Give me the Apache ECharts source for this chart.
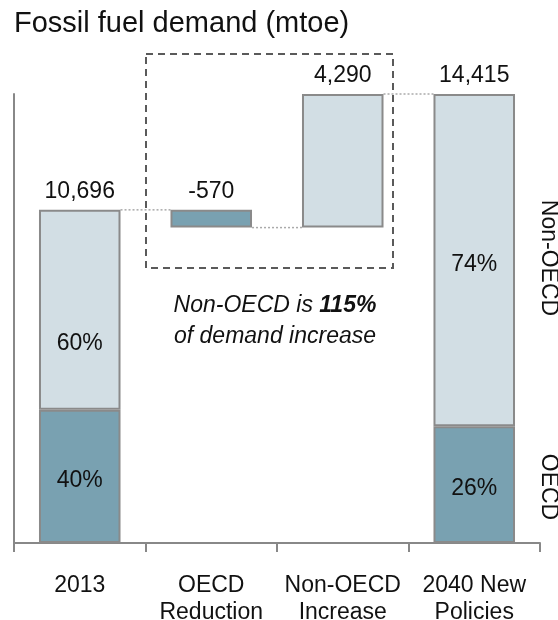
<!DOCTYPE html>
<html>
<head>
<meta charset="utf-8">
<script src="https://cdn.jsdelivr.net/npm/echarts@6/dist/echarts.min.js"></script>
<style>html,body{margin:0;padding:0;background:#fff}#c{width:558px;height:620px}</style>
</head>
<body>
<div id="c"></div>
<script>
const categories = ['2013', 'OECD\nReduction', 'Non-OECD\nIncrease', '2040 New\nPolicies'];
const totalValues = [10696, null, null, 14415];
const changeValues = [null, -570, 4290, null];
const oecdShare = [40, null, null, 26];
const nonOecdShare = [60, null, null, 74];

const FONT = '"Liberation Sans", Arial, sans-serif';
const DARK = '#79a1b1';
const LIGHT = '#d2dee4';
const BORDER = '#8a8a8a';
const TXT = '#111';

// derive waterfall layout values
const base = [], oecd = [], nonOecd = [], drop = [], rise = [], totLbl = [], connectors = [];
let running = 0;
categories.forEach((c, i) => {
  if (totalValues[i] != null) {
    base.push(0);
    oecd.push(totalValues[i] * oecdShare[i] / 100);
    nonOecd.push(totalValues[i] * nonOecdShare[i] / 100);
    drop.push('-'); rise.push('-');
    totLbl.push(0);
    if (i > 0) connectors.push([i - 1, i, running]);
    running = totalValues[i];
  } else {
    const ch = changeValues[i];
    const start = running;
    const b = ch < 0 ? running + ch : running;
    base.push(b);
    oecd.push('-'); nonOecd.push('-'); totLbl.push('-');
    if (ch < 0) { drop.push(-ch); rise.push('-'); } else { rise.push(ch); drop.push('-'); }
    if (i > 0) connectors.push([i - 1, i, start]);
    running = running + ch;
  }
});
// align last connector with the final total level
connectors[connectors.length - 1][2] = totalValues[totalValues.length - 1];

const fmt = v => v.toLocaleString('en-US');
const labelCommon = { color: TXT, fontSize: 23, fontFamily: FONT };
const barCommon = { type: 'bar', stack: 'w', barWidth: '62%' };

const chart = echarts.init(document.getElementById('c'), null, { renderer: 'canvas' });
chart.setOption({
  animation: false,
  backgroundColor: '#fff',
  grid: { left: 14, right: 18, top: 94, bottom: 77, containLabel: false, outerBoundsMode: 'none' },
  xAxis: {
    type: 'category',
    data: categories,
    axisLine: { lineStyle: { color: '#888', width: 2 } },
    axisTick: { show: true, length: 9, lineStyle: { color: '#888', width: 2 } },
    axisLabel: { color: TXT, fontSize: 23, fontFamily: FONT, lineHeight: 27, margin: 29, interval: 0 }
  },
  yAxis: {
    type: 'value', min: 0, max: totalValues[3],
    axisLine: { show: true, lineStyle: { color: '#888', width: 2 } },
    axisLabel: { show: false }, axisTick: { show: false }, splitLine: { show: false }
  },
  series: [
    Object.assign({}, barCommon, {
      name: 'base', data: base, silent: true,
      itemStyle: { color: 'rgba(0,0,0,0)', borderWidth: 0 }
    }),
    Object.assign({}, barCommon, {
      name: 'OECD', data: oecd,
      itemStyle: { color: DARK, borderColor: BORDER, borderWidth: 2 },
      label: Object.assign({ show: true, position: 'inside', offset: [0, 4],
        formatter: p => oecdShare[p.dataIndex] + '%' }, labelCommon)
    }),
    Object.assign({}, barCommon, {
      name: 'Non-OECD',
      data: nonOecd.map((v, i) => i === 0 ? { value: v, label: { offset: [0, 34] } } : v),
      itemStyle: { color: LIGHT, borderColor: BORDER, borderWidth: 2 },
      label: Object.assign({ show: true, position: 'inside', offset: [0, 5],
        formatter: p => nonOecdShare[p.dataIndex] + '%' }, labelCommon)
    }),
    Object.assign({}, barCommon, {
      name: 'OECD change', data: drop,
      itemStyle: { color: DARK, borderColor: BORDER, borderWidth: 2 },
      label: Object.assign({ show: true, position: 'top', distance: 7,
        formatter: p => fmt(changeValues[p.dataIndex]) }, labelCommon)
    }),
    Object.assign({}, barCommon, {
      name: 'Non-OECD change', data: rise,
      itemStyle: { color: LIGHT, borderColor: BORDER, borderWidth: 2 },
      label: Object.assign({ show: true, position: 'top', distance: 7,
        formatter: p => fmt(changeValues[p.dataIndex]) }, labelCommon)
    }),
    Object.assign({}, barCommon, {
      name: 'total', data: totLbl, silent: true,
      itemStyle: { color: 'rgba(0,0,0,0)', borderWidth: 0 },
      label: Object.assign({ show: true, position: 'top', distance: 7,
        formatter: p => fmt(totalValues[p.dataIndex]) }, labelCommon)
    }),
    {
      type: 'custom', name: 'connectors', data: connectors, silent: true,
      encode: { x: 0, y: 2 }, z: 1,
      renderItem: (params, api) => {
        const v = api.value(2);
        const a = api.coord([api.value(0), v]);
        const b = api.coord([api.value(1), v]);
        const half = api.size([1, 0])[0] * 0.31;
        return {
          type: 'line',
          shape: { x1: a[0] + half, y1: a[1], x2: b[0] - half, y2: b[1] },
          style: { stroke: '#aaa', lineWidth: 1.5, lineDash: [2, 2] }
        };
      }
    }
  ],
  graphic: [
    { type: 'text', left: 14, top: 9,
      style: { text: 'Fossil fuel demand (mtoe)', fontSize: 29, fontFamily: FONT, fill: TXT } },
    { type: 'rect', shape: { x: 146, y: 54, width: 247, height: 214 },
      style: { fill: 'none', stroke: '#5a5a5a', lineWidth: 2, lineDash: [7, 5] } },
    { type: 'text', x: 275, y: 321,
      style: {
        text: 'Non-OECD is {b|115%}\nof demand increase',
        align: 'center', verticalAlign: 'middle',
        fontSize: 23, fontStyle: 'italic', fontFamily: FONT, fill: TXT, lineHeight: 31,
        rich: { b: { fontWeight: 'bold', fontStyle: 'italic', fontSize: 23, fontFamily: FONT, fill: TXT } }
      } },
    { type: 'text', x: 548, y: 258, rotation: -Math.PI / 2,
      style: { text: 'Non-OECD', align: 'center', verticalAlign: 'middle', fontSize: 23, fontFamily: FONT, fill: TXT } },
    { type: 'text', x: 548, y: 487, rotation: -Math.PI / 2,
      style: { text: 'OECD', align: 'center', verticalAlign: 'middle', fontSize: 23, fontFamily: FONT, fill: TXT } }
  ]
});
</script>
</body>
</html>
